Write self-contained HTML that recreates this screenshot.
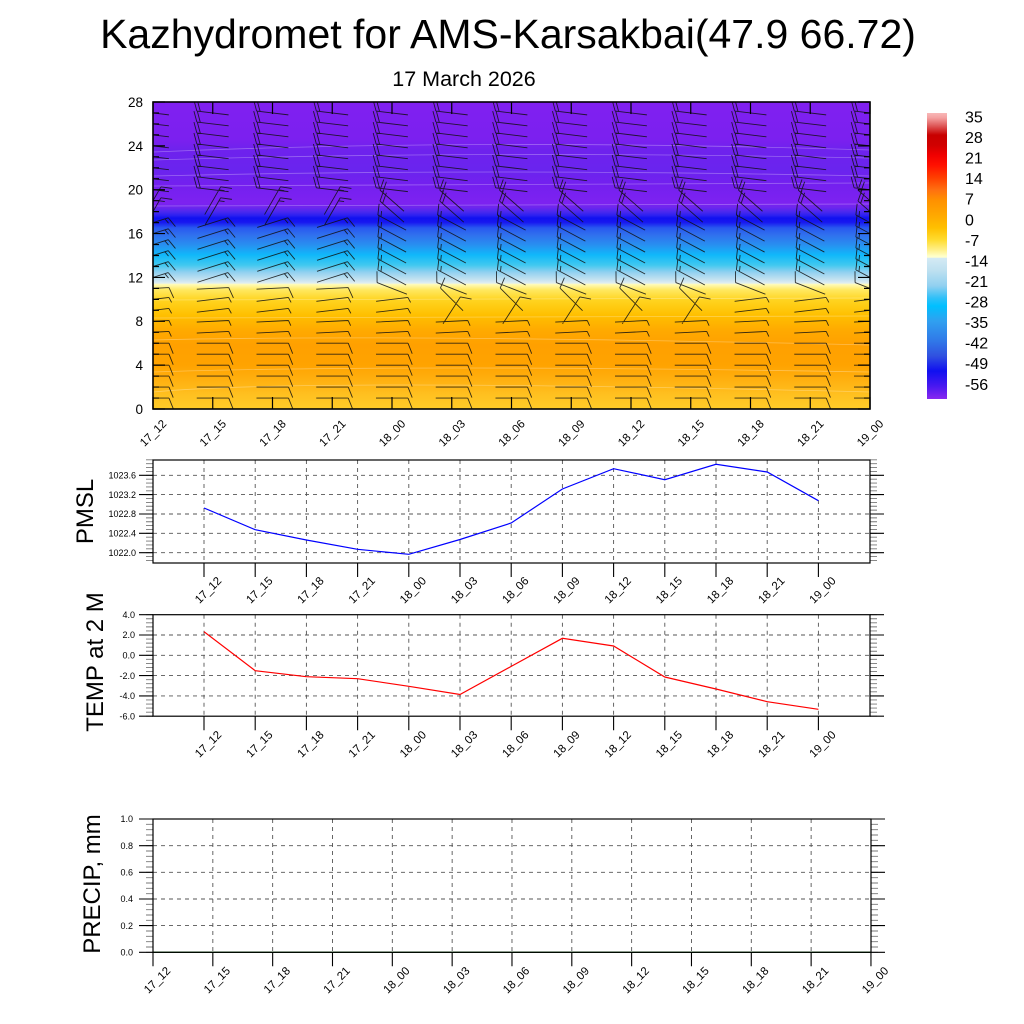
<!DOCTYPE html>
<html><head><meta charset="utf-8"><style>
html,body{margin:0;padding:0;background:#fff;}
svg{display:block;}
text{font-family:"Liberation Sans",Arial,sans-serif;fill:#000;}
</style></head><body>
<svg id="s" xmlns="http://www.w3.org/2000/svg" width="1024" height="1024" viewBox="0 0 1024 1024">
<defs>
<linearGradient id="tg" x1="0" y1="102" x2="0" y2="409" gradientUnits="userSpaceOnUse">
<stop offset="0" stop-color="#8020f0"/>
<stop offset="0.124" stop-color="#7b20ef"/>
<stop offset="0.156" stop-color="#6e22ed"/>
<stop offset="0.221" stop-color="#6a24ee"/>
<stop offset="0.270" stop-color="#7420ef"/>
<stop offset="0.330" stop-color="#7d22f0"/>
<stop offset="0.345" stop-color="#6a26ee"/>
<stop offset="0.358" stop-color="#4a28ee"/>
<stop offset="0.370" stop-color="#2a20f0"/>
<stop offset="0.378" stop-color="#1010f0"/>
<stop offset="0.392" stop-color="#1818f0"/>
<stop offset="0.410" stop-color="#2858f0"/>
<stop offset="0.433" stop-color="#3070ee"/>
<stop offset="0.466" stop-color="#2890f0"/>
<stop offset="0.498" stop-color="#10b8fa"/>
<stop offset="0.531" stop-color="#40c8f0"/>
<stop offset="0.554" stop-color="#90d0f0"/>
<stop offset="0.583" stop-color="#cfe6f0"/>
<stop offset="0.590" stop-color="#e0eef0"/>
<stop offset="0.594" stop-color="#fffbb8"/>
<stop offset="0.612" stop-color="#ffe860"/>
<stop offset="0.645" stop-color="#ffd420"/>
<stop offset="0.694" stop-color="#ffc000"/>
<stop offset="0.743" stop-color="#ffaa00"/>
<stop offset="0.792" stop-color="#ffa000"/>
<stop offset="0.857" stop-color="#ffa300"/>
<stop offset="0.906" stop-color="#ffb010"/>
<stop offset="0.954" stop-color="#ffc020"/>
<stop offset="1" stop-color="#ffcc28"/>
</linearGradient>
<linearGradient id="cb" x1="0" y1="113" x2="0" y2="399" gradientUnits="userSpaceOnUse">
<stop offset="0" stop-color="#f9b8b8"/>
<stop offset="0.017" stop-color="#f4a0a0"/>
<stop offset="0.042" stop-color="#e06060"/>
<stop offset="0.077" stop-color="#c80000"/>
<stop offset="0.112" stop-color="#d00000"/>
<stop offset="0.147" stop-color="#f00000"/>
<stop offset="0.182" stop-color="#ff1000"/>
<stop offset="0.227" stop-color="#ff4000"/>
<stop offset="0.269" stop-color="#ff7010"/>
<stop offset="0.304" stop-color="#ff9000"/>
<stop offset="0.357" stop-color="#ffa800"/>
<stop offset="0.402" stop-color="#ffc000"/>
<stop offset="0.444" stop-color="#ffdc30"/>
<stop offset="0.479" stop-color="#fff08a"/>
<stop offset="0.500" stop-color="#ffffc8"/>
<stop offset="0.505" stop-color="#ffffd0"/>
<stop offset="0.507" stop-color="#d4eaf4"/>
<stop offset="0.552" stop-color="#bde0f0"/>
<stop offset="0.605" stop-color="#90d0f0"/>
<stop offset="0.647" stop-color="#30c0f8"/>
<stop offset="0.675" stop-color="#00c0ff"/>
<stop offset="0.727" stop-color="#30a0f0"/>
<stop offset="0.797" stop-color="#3078e8"/>
<stop offset="0.850" stop-color="#3050e0"/>
<stop offset="0.902" stop-color="#1010f0"/>
<stop offset="0.955" stop-color="#4818f0"/>
<stop offset="1" stop-color="#8828f0"/>
</linearGradient>
<clipPath id="cp"><rect x="153" y="102" width="717" height="307"/></clipPath>
</defs>
<rect width="1024" height="1024" fill="#fff"/>

<!-- Titles -->
<text x="508" y="48" font-size="41" text-anchor="middle">Kazhydromet for AMS-Karsakbai(47.9 66.72)</text>
<text x="464" y="86" font-size="21.5" text-anchor="middle">17 March 2026</text>

<!-- Top panel -->
<rect x="153" y="102" width="717" height="307" fill="url(#tg)"/>
<g clip-path="url(#cp)" fill="none" stroke="#fff" stroke-opacity="0.3" stroke-width="0.8">
<path d="M153 152 Q480 138 870 150"/>
<path d="M153 160 Q480 150 870 158"/>
<path d="M153 176 Q480 168 870 176"/>
<path d="M153 186 L870 183"/>
<path d="M153 206 L870 204"/>
<path d="M153 300 L870 298"/>
<path d="M153 318 L870 316"/>
<path d="M153 340 Q400 334 870 345"/>
<path d="M153 372 Q400 364 870 372"/>
<path d="M153 392 Q300 378 870 392"/>
</g>
<g id="barbs" clip-path="url(#cp)"></g>
<g id="topticks"></g>
<rect x="153" y="102" width="717" height="307" fill="none" stroke="#000" stroke-width="1.6"/>
<g font-size="13.5" text-anchor="end">
<text x="143" y="413.9">0</text>
<text x="143" y="370">4</text>
<text x="143" y="326.2">8</text>
<text x="143" y="282.3">12</text>
<text x="143" y="238.5">16</text>
<text x="143" y="194.6">20</text>
<text x="143" y="150.8">24</text>
<text x="143" y="106.9">28</text>
</g>
<g font-size="11.5" text-anchor="middle">
<text transform="translate(153,433) rotate(-45)" y="4">17_12</text>
<text transform="translate(212.75,433) rotate(-45)" y="4">17_15</text>
<text transform="translate(272.5,433) rotate(-45)" y="4">17_18</text>
<text transform="translate(332.25,433) rotate(-45)" y="4">17_21</text>
<text transform="translate(392,433) rotate(-45)" y="4">18_00</text>
<text transform="translate(451.75,433) rotate(-45)" y="4">18_03</text>
<text transform="translate(511.5,433) rotate(-45)" y="4">18_06</text>
<text transform="translate(571.25,433) rotate(-45)" y="4">18_09</text>
<text transform="translate(631,433) rotate(-45)" y="4">18_12</text>
<text transform="translate(690.75,433) rotate(-45)" y="4">18_15</text>
<text transform="translate(750.5,433) rotate(-45)" y="4">18_18</text>
<text transform="translate(810.25,433) rotate(-45)" y="4">18_21</text>
<text transform="translate(870,433) rotate(-45)" y="4">19_00</text>
</g>

<!-- Colorbar -->
<rect x="927" y="113" width="20" height="286" fill="url(#cb)"/>
<g font-size="16">
<text x="965" y="122.5">35</text>
<text x="965" y="143.1">28</text>
<text x="965" y="163.6">21</text>
<text x="965" y="184.2">14</text>
<text x="965" y="204.7">7</text>
<text x="965" y="225.3">0</text>
<text x="965" y="245.9">-7</text>
<text x="965" y="266.4">-14</text>
<text x="965" y="287">-21</text>
<text x="965" y="307.5">-28</text>
<text x="965" y="328.1">-35</text>
<text x="965" y="348.7">-42</text>
<text x="965" y="369.2">-49</text>
<text x="965" y="389.8">-56</text>
</g>

<!-- PMSL panel -->
<g id="pmslgrid"></g>
<polyline fill="none" stroke="#0000ff" stroke-width="1.2" points="204,508 255.2,529.7 306.4,540 357.6,549.3 408.8,554.3 460,539.5 511.2,523 562.4,489 613.6,468.7 664.8,479.7 716,464.3 767.2,472 818.4,500.7"/>
<rect x="153" y="460" width="717" height="103" fill="none" stroke="#000" stroke-width="1.2"/>
<g font-size="9" text-anchor="end">
<text x="136" y="478.5">1023.6</text>
<text x="136" y="497.8">1023.2</text>
<text x="136" y="517.2">1022.8</text>
<text x="136" y="536.5">1022.4</text>
<text x="136" y="555.9">1022.0</text>
</g>
<text transform="translate(93,511.5) rotate(-90)" font-size="24" text-anchor="middle">PMSL</text>
<g font-size="11.5" text-anchor="middle">
<text transform="translate(208,590) rotate(-45)" y="4">17_12</text>
<text transform="translate(259.2,590) rotate(-45)" y="4">17_15</text>
<text transform="translate(310.4,590) rotate(-45)" y="4">17_18</text>
<text transform="translate(361.6,590) rotate(-45)" y="4">17_21</text>
<text transform="translate(412.8,590) rotate(-45)" y="4">18_00</text>
<text transform="translate(464,590) rotate(-45)" y="4">18_03</text>
<text transform="translate(515.2,590) rotate(-45)" y="4">18_06</text>
<text transform="translate(566.4,590) rotate(-45)" y="4">18_09</text>
<text transform="translate(617.6,590) rotate(-45)" y="4">18_12</text>
<text transform="translate(668.8,590) rotate(-45)" y="4">18_15</text>
<text transform="translate(720,590) rotate(-45)" y="4">18_18</text>
<text transform="translate(771.2,590) rotate(-45)" y="4">18_21</text>
<text transform="translate(822.4,590) rotate(-45)" y="4">19_00</text>
</g>

<!-- TEMP panel -->
<g id="tempgrid"></g>
<polyline fill="none" stroke="#ff0000" stroke-width="1.2" points="204,631.7 255.2,670.7 306.4,676.7 357.6,678.7 408.8,686.3 460,694.5 511.2,666.4 562.4,638.3 613.6,646 664.8,677 716,689 767.2,701.7 818.4,709.3"/>
<rect x="153" y="614.7" width="717" height="101.5" fill="none" stroke="#000" stroke-width="1.2"/>
<g font-size="9" text-anchor="end">
<text x="135" y="617.9">4.0</text>
<text x="135" y="638.2">2.0</text>
<text x="135" y="658.5">0.0</text>
<text x="135" y="678.8">-2.0</text>
<text x="135" y="699.1">-4.0</text>
<text x="135" y="719.4">-6.0</text>
</g>
<text transform="translate(103,662) rotate(-90)" font-size="24" text-anchor="middle">TEMP at 2 M</text>
<g font-size="11.5" text-anchor="middle">
<text transform="translate(208,744) rotate(-45)" y="4">17_12</text>
<text transform="translate(259.2,744) rotate(-45)" y="4">17_15</text>
<text transform="translate(310.4,744) rotate(-45)" y="4">17_18</text>
<text transform="translate(361.6,744) rotate(-45)" y="4">17_21</text>
<text transform="translate(412.8,744) rotate(-45)" y="4">18_00</text>
<text transform="translate(464,744) rotate(-45)" y="4">18_03</text>
<text transform="translate(515.2,744) rotate(-45)" y="4">18_06</text>
<text transform="translate(566.4,744) rotate(-45)" y="4">18_09</text>
<text transform="translate(617.6,744) rotate(-45)" y="4">18_12</text>
<text transform="translate(668.8,744) rotate(-45)" y="4">18_15</text>
<text transform="translate(720,744) rotate(-45)" y="4">18_18</text>
<text transform="translate(771.2,744) rotate(-45)" y="4">18_21</text>
<text transform="translate(822.4,744) rotate(-45)" y="4">19_00</text>
</g>

<!-- PRECIP panel -->
<g id="precgrid"></g>
<line x1="153" y1="952.3" x2="871" y2="952.3" stroke="#006400" stroke-width="1.4"/>
<rect x="153" y="819" width="718" height="133.3" fill="none" stroke="#000" stroke-width="1.2"/>
<g font-size="9" text-anchor="end">
<text x="133" y="822.2">1.0</text>
<text x="133" y="848.9">0.8</text>
<text x="133" y="875.5">0.6</text>
<text x="133" y="902.2">0.4</text>
<text x="133" y="928.8">0.2</text>
<text x="133" y="955.5">0.0</text>
</g>
<text transform="translate(100,884) rotate(-90)" font-size="24" text-anchor="middle">PRECIP, mm</text>
<g font-size="11.5" text-anchor="middle">
<text transform="translate(157,980) rotate(-45)" y="4">17_12</text>
<text transform="translate(216.8,980) rotate(-45)" y="4">17_15</text>
<text transform="translate(276.7,980) rotate(-45)" y="4">17_18</text>
<text transform="translate(336.5,980) rotate(-45)" y="4">17_21</text>
<text transform="translate(396.3,980) rotate(-45)" y="4">18_00</text>
<text transform="translate(456.2,980) rotate(-45)" y="4">18_03</text>
<text transform="translate(516,980) rotate(-45)" y="4">18_06</text>
<text transform="translate(575.8,980) rotate(-45)" y="4">18_09</text>
<text transform="translate(635.6,980) rotate(-45)" y="4">18_12</text>
<text transform="translate(695.5,980) rotate(-45)" y="4">18_15</text>
<text transform="translate(755.3,980) rotate(-45)" y="4">18_18</text>
<text transform="translate(815.1,980) rotate(-45)" y="4">18_21</text>
<text transform="translate(875,980) rotate(-45)" y="4">19_00</text>
</g>
</svg>
<script>
(function(){
var NS='http://www.w3.org/2000/svg';
function P(id,d,a){var p=document.createElementNS(NS,'path');p.setAttribute('d',d);for(var k in a)p.setAttribute(k,a[k]);document.getElementById(id).appendChild(p);}
function f(v){return Math.round(v*100)/100;}
function prm(i,k){
 if(k<=6) return [1,0,1,0];
 if(k<=8) return [1,-0.05,0,1];
 if(k<=10){ if(i>=5&&i<=9){ return k==9?[0.55,-0.85,1,0]:[-0.7,-0.7,1,0]; } return [1,-0.12,0,1]; }
 if(k==11) return i<=3?[1,-0.05,1,0]:[-0.9,-0.35,1,0];
 if(k<=17) return i<=3?[0.95,-0.3,1,1]:[-0.88,-0.47,1,1];
 if(k<=19) return i<=3?[0.5,-0.87,1,1]:[-0.75,-0.66,2,0];
 return [-1,-0.12,2,0];
}
var d='';
for(var i=0;i<13;i++){
 var xc=153+i*59.75;
 for(var k=1;k<=27;k++){
  var y=409-k*10.964;
  var q=prm(i,k);var ux=q[0],uy=q[1];var n=Math.hypot(ux,uy);ux/=n;uy/=n;
  var L=16;
  var ex=xc+ux*L,ey=y+uy*L,sx=xc-ux*L,sy=y-uy*L;
  d+='M'+f(sx)+' '+f(sy)+'L'+f(ex)+' '+f(ey);
  var px=-uy,py=ux,F=10.5,pos=0;
  for(var a=0;a<q[2];a++){var bx=ex-ux*pos,by=ey-uy*pos;d+='M'+f(bx)+' '+f(by)+'l'+f((0.4*ux+px)*F)+' '+f((0.4*uy+py)*F);pos+=3.5;}
  for(var b=0;b<q[3];b++){var bx2=ex-ux*pos,by2=ey-uy*pos;d+='M'+f(bx2)+' '+f(by2)+'l'+f((0.4*ux+px)*F/2)+' '+f((0.4*uy+py)*F/2);pos+=3.5;}
 }
}
P('barbs',d,{fill:'none',stroke:'#111','stroke-width':'0.9','stroke-opacity':'0.85'});
var t='';
for(var i=0;i<13;i++){var x=153+i*59.75;t+='M'+f(x)+' 409V397M'+f(x)+' 102V114';}
for(var v=0;v<=28;v++){var y=409-v*10.964;var l=(v%4==0)?12:6;t+='M153 '+f(y)+'h'+l+'M870 '+f(y)+'h-'+l;}
P('topticks',t,{fill:'none',stroke:'#000','stroke-width':'1.2'});
function panel(id,top,bot,x0,x1,majors,step,grid,xs,gridx){
 var g='',tk='',mn='';
 grid.forEach(function(y){g+='M'+x0+' '+f(y)+'H'+x1;});
 gridx.forEach(function(x){g+='M'+f(x)+' '+top+'V'+bot;});
 majors.forEach(function(y){tk+='M'+(x0-14)+' '+f(y)+'H'+x0+'M'+x1+' '+f(y)+'H'+(x1+14);});
 var s=majors[0];
 for(var y=s;y>=top-0.5;y-=step){mn+='M'+(x0-7)+' '+f(y)+'H'+x0+'M'+x1+' '+f(y)+'H'+(x1+7);}
 for(var y2=s;y2<=bot+0.5;y2+=step){mn+='M'+(x0-7)+' '+f(y2)+'H'+x0+'M'+x1+' '+f(y2)+'H'+(x1+7);}
 xs.forEach(function(x){tk+='M'+f(x)+' '+bot+'v14';});
 P(id,g,{fill:'none',stroke:'#555','stroke-width':'0.9','stroke-dasharray':'4 4'});
 P(id,mn,{fill:'none',stroke:'#777','stroke-width':'0.9'});
 P(id,tk,{fill:'none',stroke:'#000','stroke-width':'1.1'});
}
var xp=[];for(var i=0;i<13;i++)xp.push(204+i*51.2);
panel('pmslgrid',460,563,153,870,[475.3,494.6,514,533.3,552.7],3.87,[475.3,494.6,514,533.3,552.7],xp,xp);
panel('tempgrid',614.7,716.2,153,870,[614.7,635,655.3,675.6,695.9,716.2],4.06,[635,655.3,675.6,695.9],xp,xp);
var xq=[],xqi=[];for(var i=0;i<13;i++){xq.push(153+i*59.83);if(i>0&&i<12)xqi.push(153+i*59.83);}
panel('precgrid',819,952.3,153,871,[819,845.66,872.3,899,925.6,952.3],5.333,[845.66,872.3,899,925.6],xq,xqi);
})();
</script>
</body></html>
